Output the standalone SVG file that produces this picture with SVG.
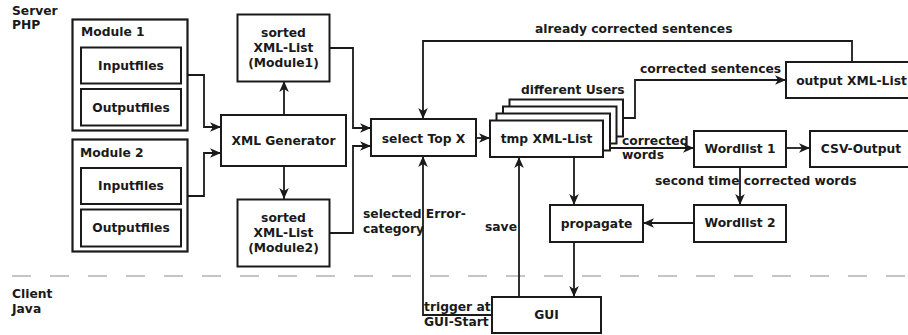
<svg xmlns="http://www.w3.org/2000/svg" width="908" height="335" viewBox="0 0 908 335">
<defs>
<style>
text{font-family:"DejaVu Sans","Liberation Sans",sans-serif;font-weight:bold;font-size:12.3px;fill:#1a1a1a}
.c{text-anchor:middle}
.box{fill:#fff;stroke:#1a1a1a;stroke-width:2}
.mod{fill:#fff;stroke:#1a1a1a;stroke-width:2.2}
.ln{fill:none;stroke:#1a1a1a;stroke-width:1.8}
.arr{marker-end:url(#ah)}
</style>
<marker id="ah" markerUnits="userSpaceOnUse" markerWidth="12" markerHeight="12" viewBox="0 0 12 12" refX="11" refY="6" orient="auto">
<path d="M0,1.2 L11,6 L0,10.8 L3,6 z" fill="#1a1a1a"/>
</marker>
</defs>
<rect width="908" height="335" fill="#fff"/>
<line x1="12" y1="276" x2="908" y2="276" stroke="#b3b3b3" stroke-width="1.5" stroke-dasharray="19 19"/>
<g id="labels-zone">
<text x="12" y="15">Server</text>
<text x="12" y="29">PHP</text>
<text x="12" y="298">Client</text>
<text x="12" y="313">Java</text>
</g>
<g id="connectors">
<path class="ln arr" d="M188,75 H204 V127 H221"/>
<path class="ln arr" d="M188,196 H204 V153 H221"/>
<path class="ln arr" d="M284,115 V81"/>
<path class="ln arr" d="M284,166 V199"/>
<path class="ln arr" d="M330,48 H353 V128 H371"/>
<path class="ln arr" d="M329,233 H353 V146 H371"/>
<path class="ln arr" d="M476,138 H490"/>
<path class="ln arr" d="M852,62 V41 H423 V119"/>
<path class="ln arr" d="M623,118 H635 V80 H786"/>
<path class="ln arr" d="M610,148 H694"/>
<path class="ln arr" d="M786,148 H810"/>
<path class="ln arr" d="M740,167 V205"/>
<path class="ln arr" d="M694,223 H643"/>
<path class="ln arr" d="M574,157 V205"/>
<path class="ln arr" d="M574,242 V297"/>
<path class="ln arr" d="M519,297 V157"/>
<path class="ln arr" d="M492,315 H423 V156"/>
<text x="535" y="33">already corrected sentences</text>
<text x="640" y="73">corrected sentences</text>
<text x="622" y="145">corrected</text>
<text x="622" y="159">words</text>
<text x="655" y="185">second time corrected words</text>
<text x="363" y="218">selected Error-</text>
<text x="363" y="233">category</text>
<text x="485" y="231">save</text>
<text x="424" y="311">trigger at</text>
<text x="424" y="326">GUI-Start</text>
<text x="521" y="94">different Users</text>
</g>
<g id="module1">
<rect class="mod" x="72.5" y="19.5" width="115" height="111"/>
<text x="81" y="36">Module 1</text>
</g>
<g id="inputfiles1">
<rect class="box" x="81" y="47.5" width="100" height="36"/>
<text class="c" x="131" y="69.5">Inputfiles</text>
</g>
<g id="outputfiles1">
<rect class="box" x="81" y="89" width="100" height="36.5"/>
<text class="c" x="131" y="111.5">Outputfiles</text>
</g>
<g id="module2">
<rect class="mod" x="72.5" y="139.5" width="115" height="112"/>
<text x="80" y="157">Module 2</text>
</g>
<g id="inputfiles2">
<rect class="box" x="81" y="168" width="100" height="36"/>
<text class="c" x="131" y="190">Inputfiles</text>
</g>
<g id="outputfiles2">
<rect class="box" x="81" y="209.5" width="100" height="37"/>
<text class="c" x="131" y="232">Outputfiles</text>
</g>
<g id="sorted1">
<rect class="box" x="237.5" y="14.5" width="92" height="67"/>
<text class="c" x="283.5" y="36.5">sorted</text>
<text class="c" x="283.5" y="52">XML-List</text>
<text class="c" x="283.5" y="67">(Module1)</text>
</g>
<g id="xmlgen">
<rect class="box" x="221" y="115" width="125" height="51"/>
<text class="c" x="283.5" y="145">XML Generator</text>
</g>
<g id="sorted2">
<rect class="box" x="237.5" y="199.5" width="92" height="67"/>
<text class="c" x="283.5" y="221.5">sorted</text>
<text class="c" x="283.5" y="237">XML-List</text>
<text class="c" x="283.5" y="252">(Module2)</text>
</g>
<g id="selecttop">
<rect class="box" x="371" y="119" width="105" height="37"/>
<text class="c" x="423.5" y="142.5">select Top X</text>
</g>
<g id="tmplist">
<rect class="box" x="509.5" y="99.5" width="113.5" height="37"/>
<rect class="box" x="503" y="106.5" width="113.5" height="37"/>
<rect class="box" x="496.5" y="113.5" width="113.5" height="37"/>
<rect class="box" x="490" y="120.5" width="113" height="36.5"/>
<text class="c" x="546.5" y="142.5">tmp XML-List</text>
</g>
<g id="outputxml">
<rect class="box" x="786" y="62" width="131" height="36"/>
<text class="c" x="851.5" y="84.5">output XML-List</text>
</g>
<g id="wordlist1">
<rect class="box" x="694" y="131" width="92" height="36"/>
<text class="c" x="740" y="152.5">Wordlist 1</text>
</g>
<g id="csv">
<rect class="box" x="810" y="131" width="102" height="36"/>
<text class="c" x="861" y="152.5">CSV-Output</text>
</g>
<g id="wordlist2">
<rect class="box" x="694" y="205" width="92" height="37"/>
<text class="c" x="740" y="227">Wordlist 2</text>
</g>
<g id="propagate">
<rect class="box" x="550" y="205" width="93" height="37"/>
<text class="c" x="596.5" y="227.5">propagate</text>
</g>
<g id="gui">
<rect class="box" x="492" y="297" width="109" height="36"/>
<text class="c" x="546.5" y="319">GUI</text>
</g>
</svg>
